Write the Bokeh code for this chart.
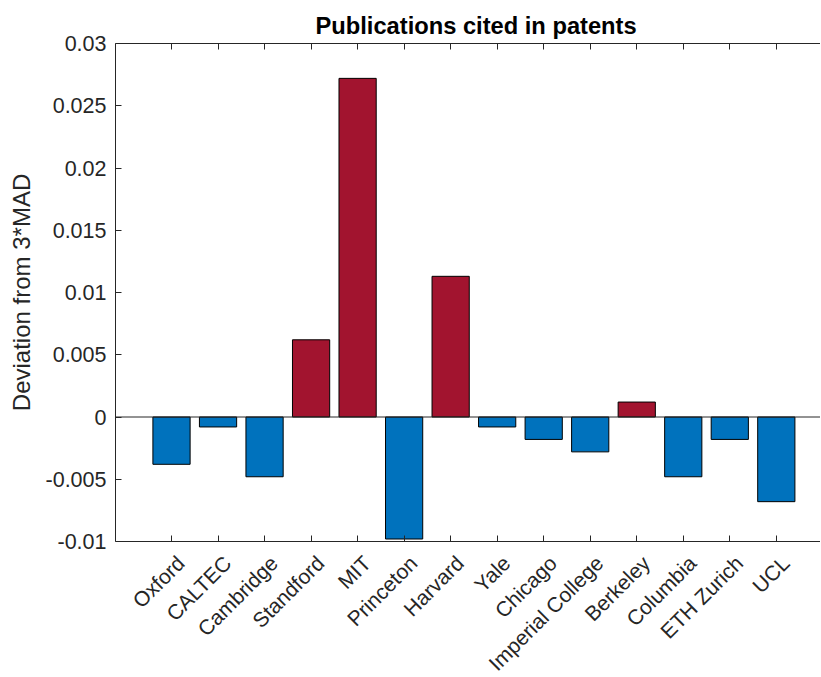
import math
from bokeh.plotting import figure
from bokeh.models import ColumnDataSource, Range1d, FixedTicker, LinearAxis, Span
from bokeh.embed import file_html
from bokeh.resources import INLINE

categories = ["Oxford", "CALTEC", "Cambridge", "Standford", "MIT", "Princeton",
              "Harvard", "Yale", "Chicago", "Imperial College", "Berkeley",
              "Columbia", "ETH Zurich", "UCL"]
deviation = [-0.0038, -0.0008, -0.0048, 0.0062, 0.0272, -0.0098,
             0.0113, -0.0008, -0.0018, -0.0028, 0.0012,
             -0.0048, -0.0018, -0.0068]
y_ticks = [-0.01, -0.005, 0, 0.005, 0.01, 0.015, 0.02, 0.025, 0.03]
y_tick_labels = ["-0.01", "-0.005", "0", "0.005", "0.01", "0.015", "0.02", "0.025", "0.03"]

RED = "#A2142F"
BLUE = "#0072BD"
AX = "#262626"
FONT = "Liberation Sans"
Y_MIN, Y_MAX = -0.01, 0.03
LABEL_SHIFT = 0.2  # rotated labels sit slightly right of their tick

xs = list(range(1, len(categories) + 1))
colors = [RED if v > 0 else BLUE for v in deviation]
src = ColumnDataSource(dict(x=xs, top=deviation, color=colors))

p = figure(frame_width=705, frame_height=498,
           x_range=Range1d(-0.204, 14.95), y_range=Range1d(Y_MIN, Y_MAX),
           output_backend="svg", toolbar_location=None,
           min_border_left=115, min_border_right=0, min_border_top=43,
           min_border_bottom=136, x_axis_type=None, y_axis_type=None)
p.outline_line_color = None
p.xgrid.visible = False
p.ygrid.visible = False
p.background_fill_color = "white"
p.border_fill_color = "white"

p.title.text = "Publications cited in patents"
p.title.align = "left"
p.title.text_font = FONT
p.title.text_font_size = "23.7px"
p.title.text_font_style = "bold"
p.title.text_color = "#000000"
p.title.offset = 200
p.title.standoff = 10

p.vbar(x="x", top="top", bottom=0, width=0.8, fill_color="color",
       line_color="black", line_width=1, source=src)

p.add_layout(Span(location=0, dimension="width", line_color=AX, line_width=1))

# Left axis
ya = LinearAxis(ticker=FixedTicker(ticks=y_ticks),
                major_label_overrides={t: l for t, l in zip(y_ticks, y_tick_labels)})
ya.axis_label = "Deviation from 3*MAD"
ya.axis_label_text_font = FONT
ya.axis_label_text_font_size = "24px"
ya.axis_label_text_font_style = "normal"
ya.axis_label_text_color = AX
ya.axis_label_standoff = 8
ya.major_label_text_font = FONT
ya.major_label_text_font_size = "21.5px"
ya.major_label_text_color = AX
ya.axis_line_color = AX
ya.major_tick_line_color = AX
ya.major_tick_in = 6
ya.major_tick_out = 0
ya.minor_tick_line_color = None
ya.major_label_standoff = 9
p.add_layout(ya, "left")

# Bottom axis: line and inward ticks only
xa = LinearAxis(ticker=FixedTicker(ticks=xs))
xa.major_label_text_font_size = "0px"
xa.major_label_text_color = None
xa.axis_line_color = AX
xa.major_tick_line_color = AX
xa.major_tick_in = 6
xa.major_tick_out = 0
xa.minor_tick_line_color = None
xa.major_label_standoff = 0
p.add_layout(xa, "below")

# Bottom axis: rotated category labels
label_ticks = [x + LABEL_SHIFT for x in xs]
la = LinearAxis(ticker=FixedTicker(ticks=label_ticks),
                major_label_overrides={t: c for t, c in zip(label_ticks, categories)})
la.major_label_orientation = math.pi / 4
la.major_label_text_font = FONT
la.major_label_text_font_size = "21px"
la.major_label_text_color = AX
la.axis_line_color = None
la.major_tick_line_color = None
la.minor_tick_line_color = None
la.major_tick_in = 0
la.major_tick_out = 0
la.major_label_standoff = 18
p.add_layout(la, "below")

# Top axis (box edge with inward ticks, no labels)
ta = LinearAxis(ticker=FixedTicker(ticks=xs))
ta.major_label_text_font_size = "0px"
ta.major_label_text_color = None
ta.axis_line_color = AX
ta.major_tick_line_color = AX
ta.major_tick_in = 6
ta.major_tick_out = 0
ta.minor_tick_line_color = None
ta.major_label_standoff = 0
p.add_layout(ta, "above")

open("out.html", "w").write(file_html(p, INLINE))
